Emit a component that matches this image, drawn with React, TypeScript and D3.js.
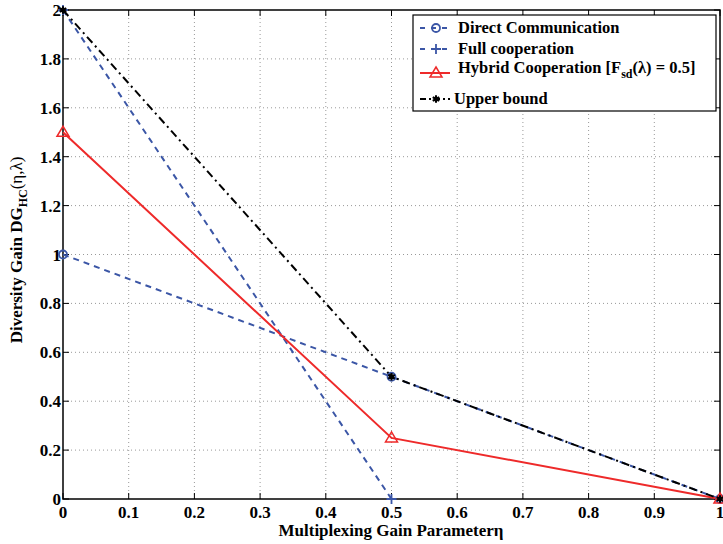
import React, { useEffect, useRef } from "react";
import * as d3 from "d3";

const xTicks = [0, 0.1, 0.2, 0.3, 0.4, 0.5, 0.6, 0.7, 0.8, 0.9, 1];
const yTicks = [0, 0.2, 0.4, 0.6, 0.8, 1, 1.2, 1.4, 1.6, 1.8, 2];

const directX = [0, 0.5, 1];
const directY = [1, 0.5, 0];
const fullX = [0, 0.5];
const fullY = [2, 0];
const hybridX = [0, 0.5, 1];
const hybridY = [1.5, 0.25, 0];
const upperX = [0, 0.5, 1];
const upperY = [2, 0.5, 0];

const BLUE = "#3b56a6";
const RED = "#ee2a2a";
const BLACK = "#000";

export default function App() {
  const ref = useRef<SVGSVGElement>(null);
  useEffect(() => {
    const svg = d3.select(ref.current);
    svg.selectAll("*").remove();
    const L = 63, R = 720, T = 10, B = 499;
    const x = d3.scaleLinear().domain([0, 1]).range([L, R]);
    const y = d3.scaleLinear().domain([0, 2]).range([B, T]);
    const font = "Liberation Serif, Times New Roman, Times, serif";

    svg.append("rect").attr("width", 723).attr("height", 544).attr("fill", "#fff");

    const g = svg.append("g");
    xTicks.slice(1, -1).forEach((t) => {
      g.append("line").attr("x1", x(t)).attr("x2", x(t)).attr("y1", T).attr("y2", B)
        .attr("stroke", "#999").attr("stroke-width", 1).attr("stroke-dasharray", "1,3");
    });
    yTicks.slice(1, -1).forEach((t) => {
      g.append("line").attr("x1", L).attr("x2", R).attr("y1", y(t)).attr("y2", y(t))
        .attr("stroke", "#999").attr("stroke-width", 1).attr("stroke-dasharray", "1,3");
    });

    xTicks.forEach((t) => {
      g.append("line").attr("x1", x(t)).attr("x2", x(t)).attr("y1", B).attr("y2", B - 6).attr("stroke", "#000");
      g.append("line").attr("x1", x(t)).attr("x2", x(t)).attr("y1", T).attr("y2", T + 6).attr("stroke", "#000");
      g.append("text").attr("x", x(t)).attr("y", B + 19).attr("text-anchor", "middle")
        .style("font-family", font).style("font-weight", "bold").style("font-size", "17px")
        .text(d3.format("")(t));
    });
    yTicks.forEach((t) => {
      g.append("line").attr("x1", L).attr("x2", L + 6).attr("y1", y(t)).attr("y2", y(t)).attr("stroke", "#000");
      g.append("line").attr("x1", R).attr("x2", R - 6).attr("y1", y(t)).attr("y2", y(t)).attr("stroke", "#000");
      g.append("text").attr("x", L - 2).attr("y", y(t) + 6).attr("text-anchor", "end")
        .style("font-family", font).style("font-weight", "bold").style("font-size", "17px")
        .text(d3.format("")(t));
    });

    svg.append("rect").attr("x", L).attr("y", T).attr("width", R - L).attr("height", B - T)
      .attr("fill", "none").attr("stroke", "#000").attr("stroke-width", 1.5);

    const line = d3.line<[number, number]>().x((d) => x(d[0])).y((d) => y(d[1]));
    const zip = (a: number[], b: number[]) => a.map((v, i) => [v, b[i]] as [number, number]);

    const series = [
      { d: zip(directX, directY), c: BLUE, dash: "6,5", m: "circle" },
      { d: zip(fullX, fullY), c: BLUE, dash: "6,5", m: "plus" },
      { d: zip(hybridX, hybridY), c: RED, dash: null, m: "tri" },
      { d: zip(upperX, upperY), c: BLACK, dash: "8,4,2,4", m: "star" },
    ];

    const drawMarker = (sel: any, m: string, c: string, px: number, py: number) => {
      if (m === "circle") {
        sel.append("circle").attr("cx", px).attr("cy", py).attr("r", 4).attr("fill", "none").attr("stroke", c).attr("stroke-width", 1.8);
      } else if (m === "plus") {
        sel.append("path").attr("d", `M${px - 5},${py}H${px + 5}M${px},${py - 5}V${py + 5}`).attr("stroke", c).attr("stroke-width", 1.8);
      } else if (m === "tri") {
        sel.append("path").attr("d", `M${px},${py - 6}L${px + 6},${py + 4}L${px - 6},${py + 4}Z`).attr("fill", "none").attr("stroke", c).attr("stroke-width", 1.5);
      } else if (m === "star") {
        sel.append("path").attr("d", d3.symbol(d3.symbolAsterisk, 40)()).attr("transform", `translate(${px},${py})`).attr("stroke", c).attr("stroke-width", 2).attr("fill", "none");
        sel.append("circle").attr("cx", px).attr("cy", py).attr("r", 2.5).attr("fill", c);
      }
    };

    series.forEach((s) => {
      const p = svg.append("path").attr("d", line(s.d)).attr("fill", "none").attr("stroke", s.c).attr("stroke-width", 2);
      if (s.dash) p.attr("stroke-dasharray", s.dash);
    });
    series.forEach((s) => {
      s.d.forEach(([a, b]) => drawMarker(svg, s.m, s.c, x(a), y(b)));
    });

    const lg = svg.append("g");
    lg.append("rect").attr("x", 413).attr("y", 15).attr("width", 303).attr("height", 96)
      .attr("fill", "#fff").attr("stroke", "#000").attr("stroke-width", 1.2);
    const items = [
      { label: "Direct Communication", yy: 28, s: series[0] },
      { label: "Full cooperation", yy: 49, s: series[1] },
      { label: "Hybrid", yy: 73, s: series[2] },
      { label: "Upper bound", yy: 99, s: series[3] },
    ];
    items.forEach((it) => {
      const l = lg.append("line").attr("x1", 420).attr("x2", 450).attr("y1", it.yy).attr("y2", it.yy)
        .attr("stroke", it.s.c).attr("stroke-width", 2);
      if (it.s.dash) l.attr("stroke-dasharray", it.s.dash === "6,5" ? "5,6" : "6,3,2,3");
      drawMarker(lg, it.s.m, it.s.c, 436, it.yy);
      const tx = lg.append("text").attr("x", it.label === "Upper bound" ? 454 : 458).attr("y", it.yy + 5)
        .style("font-family", font).style("font-weight", "bold").style("font-size", "16.5px");
      if (it.label === "Hybrid") {
        tx.attr("y", 73);
        tx.append("tspan").text("Hybrid Cooperation [F");
        tx.append("tspan").attr("dy", 5).style("font-size", "12px").text("sd");
        tx.append("tspan").attr("dy", -5).text("(λ) = 0.5]");
      } else {
        tx.text(it.label);
      }
    });

    svg.append("text").attr("x", 391).attr("y", 536).attr("text-anchor", "middle")
      .style("font-family", font).style("font-weight", "bold").style("font-size", "17px")
      .text("Multiplexing Gain Parameterη");
    const yl = svg.append("text").attr("transform", `translate(22,250) rotate(-90)`).attr("text-anchor", "middle")
      .style("font-family", font).style("font-weight", "bold").style("font-size", "17px");
    yl.append("tspan").text("Diversity Gain DG");
    yl.append("tspan").attr("dy", 5).style("font-size", "12px").text("HC");
    yl.append("tspan").attr("dy", -5).style("font-weight", "normal").text("(η,λ)");
  }, []);
  return (
    <svg ref={ref} width={723} height={544} style={{ position: "absolute", left: 0, top: 0 }} />
  );
}
